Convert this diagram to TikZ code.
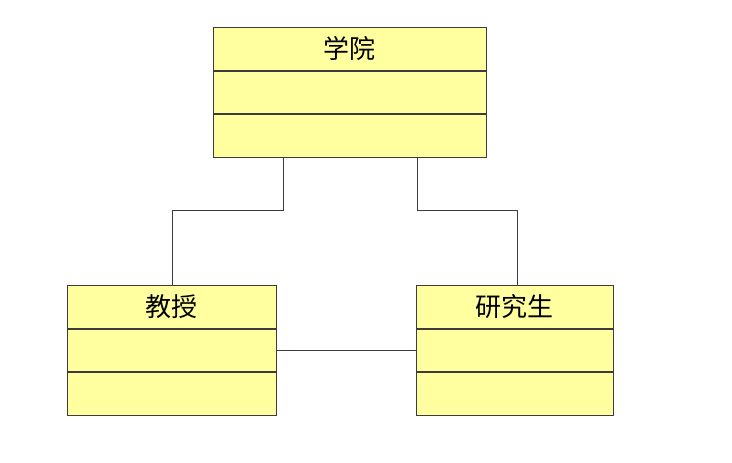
\documentclass[tikz,border=0pt]{standalone}
\usepackage{fontspec}
\newfontfamily\cjk{Noto Sans CJK SC}
\usetikzlibrary{positioning}
\definecolor{classfill}{RGB}{255,255,160}
\definecolor{classline}{RGB}{60,60,60}
\tikzset{
  part/.style={draw=classline,fill=classfill,line width=1pt,minimum height=42.5pt,
    inner sep=0pt,font=\cjk\fontsize{26}{26}\selectfont,anchor=north},
  link/.style={draw=classline,line width=1pt}
}
\begin{document}
\begin{tikzpicture}[x=1pt,y=-1pt]
\useasboundingbox (0,0) rectangle (732,463);
% school
\node[part,minimum width=273pt] (s1) at (349.5,27) {学院};
\node[part,minimum width=273pt,below=0pt of s1] (s2) {};
\node[part,minimum width=273pt,below=0pt of s2] (s3) {};
% professor
\node[part,minimum width=209pt] (p1) at (171.5,285) {教授};
\node[part,minimum width=209pt,below=0pt of p1] (p2) {};
\node[part,minimum width=209pt,below=0pt of p2] (p3) {};
% student
\node[part,minimum width=197pt] (g1) at (514.5,285) {研究生};
\node[part,minimum width=197pt,below=0pt of g1] (g2) {};
\node[part,minimum width=197pt,below=0pt of g2] (g3) {};
% links
\draw[link] (s3.south -| 283,0) |- (172,210) -- (p1.north -| 172,0);
\draw[link] (s3.south -| 417,0) |- (517,210) -- (g1.north -| 517,0);
\draw[link] (p2.east) -- (g2.west);
\end{tikzpicture}
\end{document}
